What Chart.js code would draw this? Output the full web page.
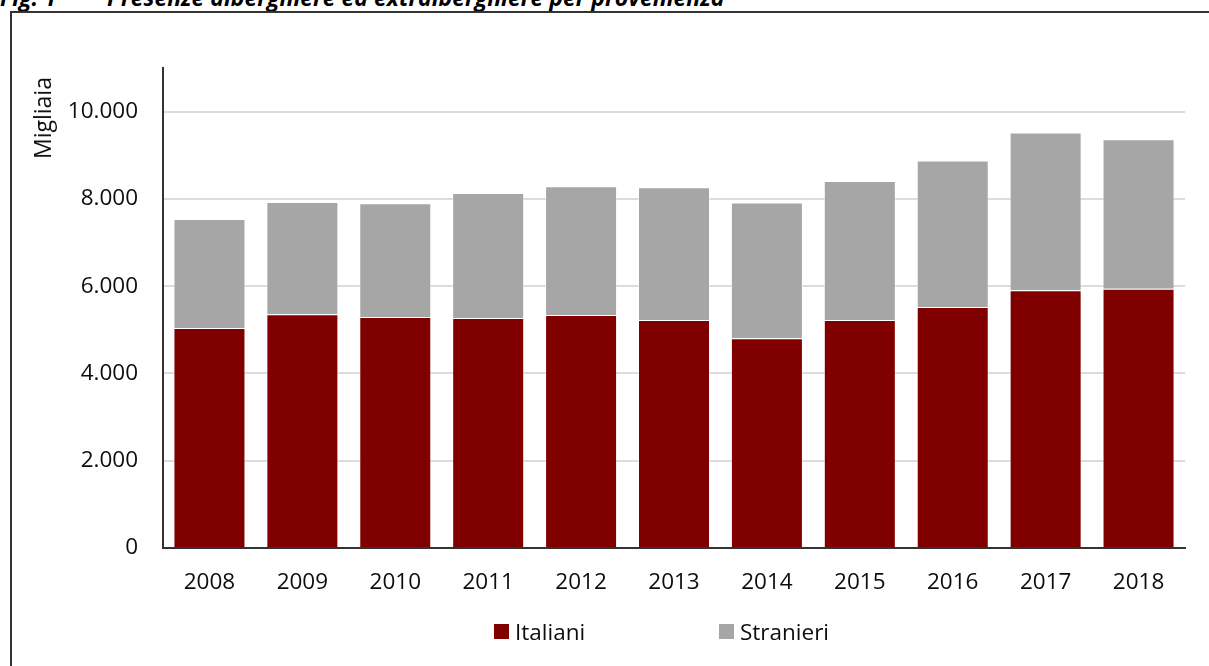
<!DOCTYPE html>
<html>
<head>
<meta charset="utf-8">
<script src="https://cdn.jsdelivr.net/npm/chart.js@4"></script>
<style>
  html, body { margin: 0; padding: 0; background: #fff; }
  body { width: 1209px; height: 666px; position: relative; overflow: hidden; font-family: "Open Sans", sans-serif; }
  .fig-title { position: absolute; top: -14px; font: italic bold 23px/23px "Open Sans", sans-serif; color: #000; white-space: pre; }
  .frame { position: absolute; left: 10px; top: 11px; width: 1400px; height: 900px; border: 2px solid #333; }
  #chart { position: absolute; left: 0; top: 0; }
  .y-title { position: absolute; left: 42px; top: 77px; transform-origin: 0 0; transform: rotate(-90deg) translate(-100%, -50%); font-size: 23px; line-height: 26px; color: #0d0d0d; white-space: nowrap; }
  .legend { position: absolute; top: 618px; left: 0; font-size: 22.5px; color: #0d0d0d; }
  .legend .item { position: absolute; white-space: nowrap; }
  .legend .box { position: absolute; top: 6px; width: 15px; height: 15px; }
  .legend .txt { position: absolute; left: 21px; top: 0; line-height: 28px; }
</style>
</head>
<body>
<div class="fig-title" style="left:0">Fig. 1</div>
<div class="fig-title" style="left:107px">Presenze alberghiere ed extralberghiere per provenienza</div>
<div class="frame"></div>
<canvas id="chart" width="1209" height="666"></canvas>
<div class="y-title">Migliaia</div>
<div class="legend" id="legend"></div>
<script>
// Presenze (migliaia) per provenienza
const years = ['2008', '2009', '2010', '2011', '2012', '2013', '2014', '2015', '2016', '2017', '2018'];
const italiani = [5041, 5356, 5294, 5271, 5339, 5225, 4805, 5225, 5523, 5906, 5943];
const stranieri = [2500, 2575, 2607, 2867, 2952, 3043, 3110, 3188, 3355, 3615, 3426];
const yTicks = [0, 2000, 4000, 6000, 8000, 10000];
const seriesNames = ['Italiani', 'Stranieri'];
const seriesColors = ['#800000', '#a6a6a6'];

// separatore migliaia all'italiana
const fmt = v => String(v).replace(/\B(?=(\d{3})+(?!\d))/g, '.');
const tickFont = { family: 'Open Sans', size: 22.5 };

const chart = new Chart(document.getElementById('chart'), {
  type: 'bar',
  data: {
    labels: years,
    datasets: [
      { label: seriesNames[0], data: italiani, backgroundColor: seriesColors[0], borderColor: 'rgba(255,255,255,0.45)', borderWidth: 1 },
      { label: seriesNames[1], data: stranieri, backgroundColor: seriesColors[1], borderColor: 'rgba(255,255,255,0.45)', borderWidth: 1 },
    ]
  },
  options: {
    responsive: false,
    animation: false,
    layout: { padding: { left: 20, right: 24, top: 68, bottom: 58 } },
    plugins: { legend: { display: false }, tooltip: { enabled: false } },
    datasets: { bar: { categoryPercentage: 1, barPercentage: 0.775 } },
    scales: {
      x: {
        stacked: true,
        grid: { display: false, drawTicks: false },
        border: { color: '#333', width: 2 },
        ticks: { color: '#0d0d0d', font: tickFont, padding: 21, maxRotation: 0 },
        afterFit: s => { s.height = 60; }
      },
      y: {
        stacked: true,
        min: 0,
        max: 11000,
        afterBuildTicks: s => { s.ticks = yTicks.map(v => ({ value: v })); },
        grid: { color: '#dcdcdc', lineWidth: 2, drawTicks: false },
        border: { color: '#333', width: 2 },
        ticks: { color: '#0d0d0d', font: tickFont, padding: 25, callback: v => fmt(v) },
        afterFit: s => { s.width = 143; }
      }
    }
  }
});

// legenda HTML sotto il grafico
const legendPos = [494, 719];
document.getElementById('legend').innerHTML = seriesNames.map((n, i) =>
  `<div class="item" style="left:${legendPos[i]}px"><span class="box" style="background:${seriesColors[i]}"></span><span class="txt">${n}</span></div>`
).join('');
</script>
</body>
</html>
